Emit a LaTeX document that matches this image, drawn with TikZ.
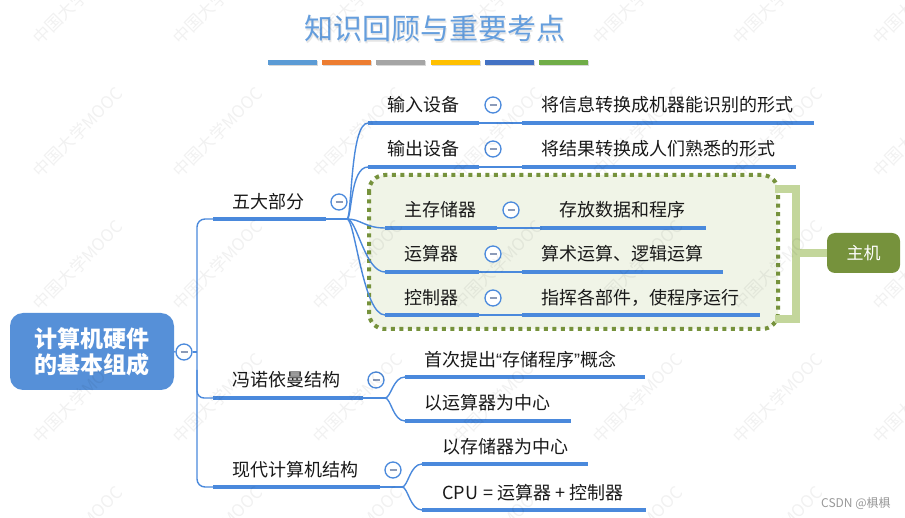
\documentclass[tikz,border=0pt]{standalone}
\usepackage{fontspec}
\setmainfont{Noto Sans CJK SC}
\newfontfamily\quotefont{Liberation Sans}
\usetikzlibrary{calc}

\definecolor{lineblue}{HTML}{4A89DC}
\definecolor{rootblue}{HTML}{5690D8}
\definecolor{titleblue}{HTML}{659EDD}
\definecolor{foldminus}{HTML}{8C9BB8}
\definecolor{groupgreen}{HTML}{76923C}
\definecolor{groupfill}{HTML}{F0F4E7}
\definecolor{bracketgreen}{HTML}{C3D69B}
\definecolor{barA}{HTML}{5B9BD5}
\definecolor{barB}{HTML}{ED7D31}
\definecolor{barC}{HTML}{A5A5A5}
\definecolor{barD}{HTML}{FFC000}
\definecolor{barE}{HTML}{4472C4}
\definecolor{barF}{HTML}{70AD47}

\tikzset{
  topicline/.style={draw=lineblue, line width=4pt},
  link/.style={draw=lineblue, line width=1.4pt},
  label/.style={anchor=west, inner sep=0pt, text=black!90,
                font=\fontsize{18}{20}\selectfont},
  fold/.style={circle, draw=lineblue, line width=1.3pt, fill=white,
               minimum size=16pt, inner sep=0pt,
               path picture={\draw[foldminus, line width=1.4pt]
                 ($(path picture bounding box.center)+(-3.5pt,0pt)$) -- ++(7pt,0pt);}},
  rootbox/.style={fill=rootblue, rounded corners=13pt, minimum width=164pt,
                  minimum height=77pt, text=white, align=center,
                  font=\fontsize{23}{26}\selectfont\bfseries},
  hostbox/.style={fill=groupgreen, rounded corners=8pt, minimum width=73pt,
                  minimum height=40pt, text=white,
                  font=\fontsize{17}{20}\selectfont},
  groupframe/.style={draw=groupgreen, fill=groupfill, line width=4pt,
                     dash pattern=on 4pt off 4.5pt, rounded corners=16pt},
  bracket/.style={draw=bracketgreen, line width=7.5pt},
  watermark/.style={rotate=45, text=black, opacity=0.055,
                    font=\fontsize{17}{17}\selectfont},
}

\begin{document}
\begin{tikzpicture}[x=1pt,y=-1pt]
\useasboundingbox (0,0) rectangle (905,518);
\fill[white] (0,0) rectangle (905,518);

% ---- heading and colour strip
\node[text=gray, opacity=0.2, font=\fontsize{29}{32}\selectfont] (titleshadow) at (436.2,30.2) {知识回顾与重要考点};
\node[text=titleblue, font=\fontsize{29}{32}\selectfont] (title) at (435,29) {知识回顾与重要考点};
\foreach \c [count=\i from 0] in {barA,barB,barC,barD,barE,barF}{
  \fill[gray, opacity=0.3] ({268+\i*54.2+1},61.5) rectangle ++(49,5);
  \fill[\c] ({268+\i*54.2},60) rectangle ++(49,5);
}

% ---- host group frame and bracket
\draw[groupframe] (369,175) rectangle (778,329);
\node[hostbox] (host) at (863.5,253) {主机};
\coordinate (brTop) at (775,189);
\coordinate (brBot) at (775,319);
\coordinate (brMid) at (796,253);
\draw[bracket] (brTop) -- (796,189) -- (796,319) -- (brBot);
\draw[bracket] (brMid) -- (host.west);

% ---- root
\node[rootbox] (root) at (92,351.5) {计算机硬件\\的基本组成};
\node[fold] (rootfold) at (184,352) {};
\coordinate (rootJ) at (197,352);

% ---- first-level topics
\coordinate (wdL) at (213,219); \coordinate (wdR) at (326,219); \coordinate (wdJ) at (347,219);
\coordinate (vnL) at (213,398); \coordinate (vnR) at (363,398); \coordinate (vnJ) at (385,398);
\coordinate (mcL) at (213,487); \coordinate (mcR) at (380,487); \coordinate (mcJ) at (402,487);
\coordinate (trunkTop) at (197,219);
\coordinate (trunkBot) at (197,487);
\coordinate (trunkVN) at (197,370);

\draw[link] (root.east) -- (rootfold.west);
\draw[link] (rootfold.east) -- (rootJ);
\draw[link, rounded corners=8pt] (wdL) -- (trunkTop) -- (trunkBot) -- (mcL);
\draw[link, rounded corners=7pt] (trunkVN) |- (vnL);

\draw[topicline] (wdL) -- (wdR);
\draw[topicline] (vnL) -- (vnR);
\draw[topicline] (mcL) -- (mcR);
\draw[link] (wdR) -- (wdJ);
\draw[link] (vnR) -- (vnJ);
\draw[link] (mcR) -- (mcJ);

\node[label] (wdText) at (232,202) {五大部分};
\node[label] (vnText) at (232,380) {冯诺依曼结构};
\node[label] (mcText) at (232,470) {现代计算机结构};
\node[fold] (wdFold) at (339,202) {};
\node[fold] (vnFold) at (376,380) {};
\node[fold] (mcFold) at (393,470) {};

% ---- the five parts
\coordinate (inL) at (368,123);  \coordinate (inR) at (479,123);  \coordinate (inDL) at (522,123);  \coordinate (inDR) at (814,123);
\coordinate (outL) at (368,167); \coordinate (outR) at (479,167); \coordinate (outDL) at (522,167); \coordinate (outDR) at (796,167);
\coordinate (memL) at (385,228); \coordinate (memR) at (497,228); \coordinate (memDL) at (540,228); \coordinate (memDR) at (706,228);
\coordinate (aluL) at (385,272); \coordinate (aluR) at (479,272); \coordinate (aluDL) at (522,272); \coordinate (aluDR) at (723,272);
\coordinate (ctlL) at (385,315); \coordinate (ctlR) at (479,315); \coordinate (ctlDL) at (522,315); \coordinate (ctlDR) at (760,315);

\draw[link] (wdJ) .. controls +(5,0) and +(-18,0) .. (inL);
\draw[link] (wdJ) .. controls +(5,0) and +(-18,0) .. (outL);
\draw[link] (wdJ) .. controls +(14,0) and +(-20,0) .. (memL);
\draw[link] (wdJ) .. controls +(10,0) and +(-20,0) .. (aluL);
\draw[link] (wdJ) .. controls +(8,0) and +(-22,0) .. (ctlL);

\foreach \p in {in,out,mem,alu,ctl}{
  \draw[topicline] (\p L) -- (\p R);
  \draw[link] (\p R) -- (\p DL);
  \draw[topicline] (\p DL) -- (\p DR);
}

\node[label] (inText)  at (387,105) {输入设备};
\node[label] (outText) at (387,149) {输出设备};
\node[label] (memText) at (404,210) {主存储器};
\node[label] (aluText) at (404,254) {运算器};
\node[label] (ctlText) at (404,298) {控制器};
\node[fold] (inFold)  at (493,105) {};
\node[fold] (outFold) at (493,149) {};
\node[fold] (memFold) at (511,210) {};
\node[fold] (aluFold) at (493,254) {};
\node[fold] (ctlFold) at (493,298) {};
\node[label] (inDesc)  at (541,105) {将信息转换成机器能识别的形式};
\node[label] (outDesc) at (541,149) {将结果转换成人们熟悉的形式};
\node[label] (memDesc) at (559,210) {存放数据和程序};
\node[label] (aluDesc) at (541,254) {算术运算、逻辑运算};
\node[label] (ctlDesc) at (541,298) {指挥各部件，使程序运行};

% ---- von Neumann structure
\coordinate (vnAL) at (405,377); \coordinate (vnAR) at (645,377);
\coordinate (vnBL) at (405,421); \coordinate (vnBR) at (571,421);
\draw[link] (vnJ) .. controls +(6,0) and +(-12,0) .. (vnAL);
\draw[link] (vnJ) .. controls +(6,0) and +(-12,0) .. (vnBL);
\draw[topicline] (vnAL) -- (vnAR);
\draw[topicline] (vnBL) -- (vnBR);
\node[label] (vnAText) at (424,360) {首次提出{\quotefont “}存储程序{\quotefont ”}概念};
\node[label] (vnBText) at (424,403) {以运算器为中心};

% ---- modern structure
\coordinate (mcAL) at (422,464); \coordinate (mcAR) at (588,464);
\coordinate (mcBL) at (422,510); \coordinate (mcBR) at (646,510);
\draw[link] (mcJ) .. controls +(6,0) and +(-12,0) .. (mcAL);
\draw[link] (mcJ) .. controls +(6,0) and +(-12,0) .. (mcBL);
\draw[topicline] (mcAL) -- (mcAR);
\draw[topicline] (mcBL) -- (mcBR);
\node[label] (mcAText) at (442,447) {以存储器为中心};
\node[label] (mcBText) at (442,493) {CPU\kern1pt{} = 运算器 + 控制器};

% ---- faint watermark grid
\foreach \i in {0,...,6}{
  \foreach \j in {0,...,4}{
    \node[watermark] (wm-\i-\j) at ({78+140*\i},{-1+133*\j}) {中国大学MOOC};
  }
}
\node[anchor=west, inner sep=0pt, text=black!40, font=\fontsize{12}{14}\selectfont] (csdn) at (821,503) {CSDN @椇椇};
\end{tikzpicture}
\end{document}
